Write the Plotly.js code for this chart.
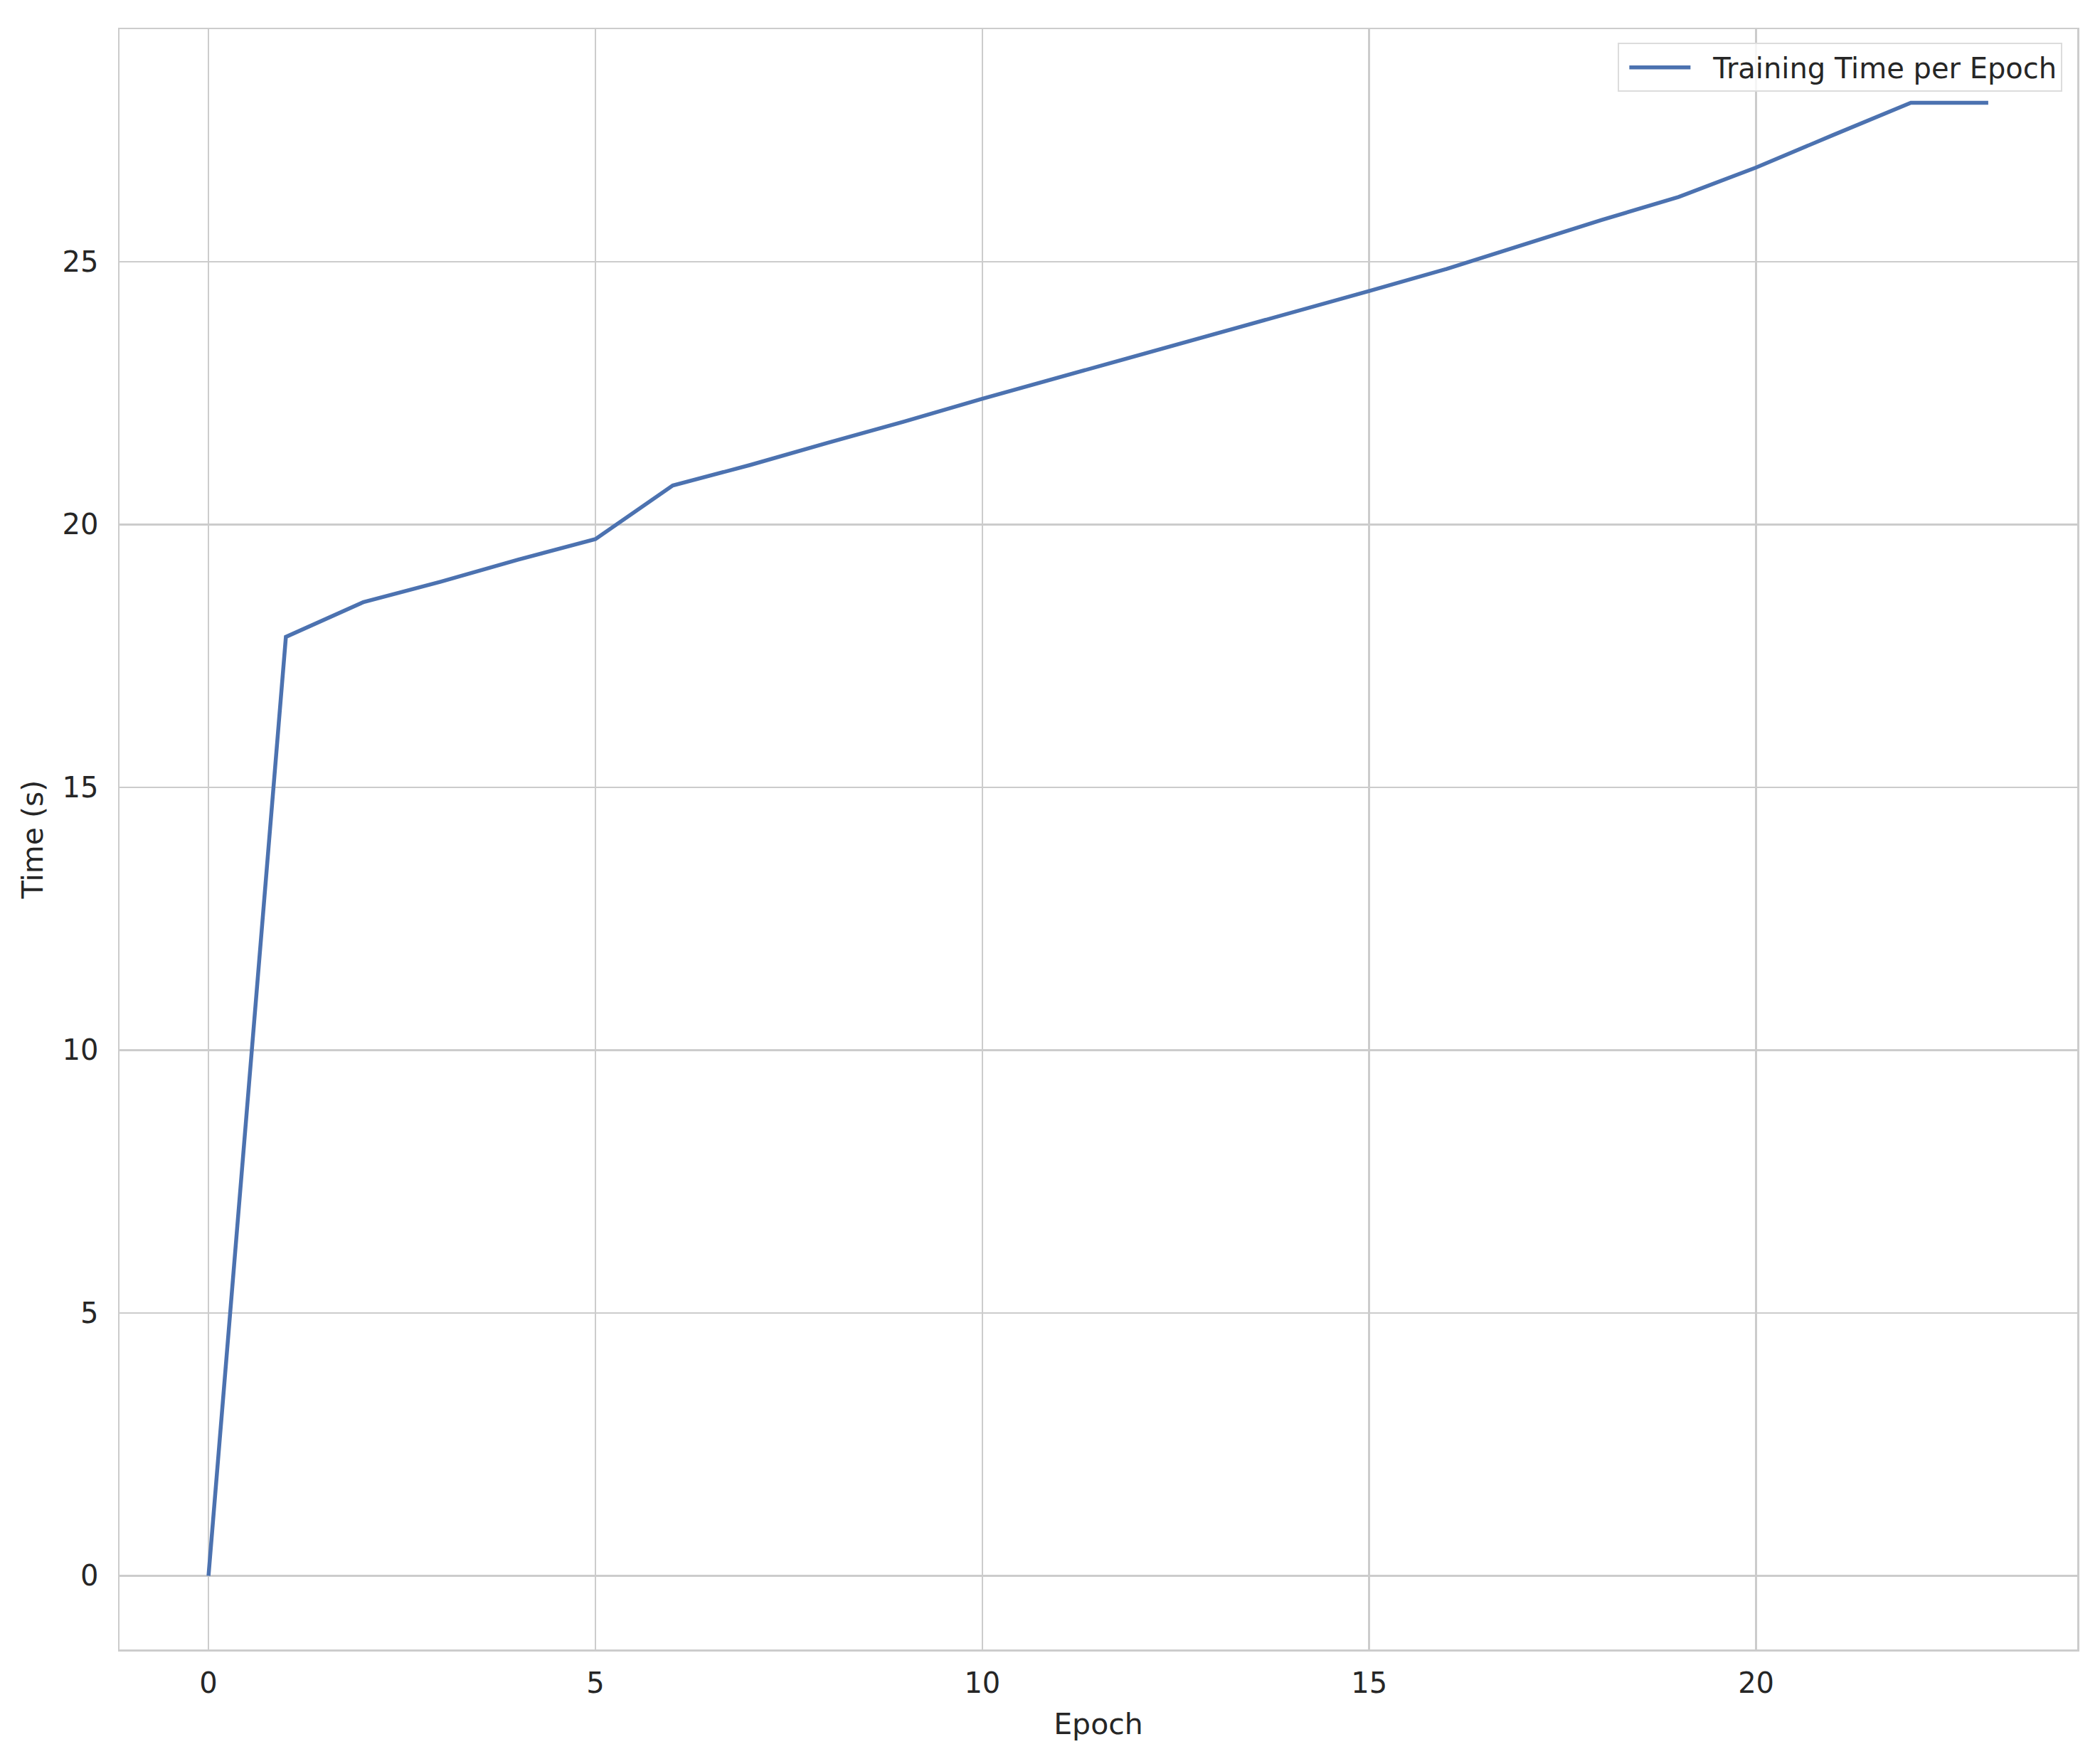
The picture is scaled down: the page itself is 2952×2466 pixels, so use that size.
<!DOCTYPE html>
<html>
<head>
<meta charset="utf-8">
<script src="https://cdn.plot.ly/plotly-3.0.1.min.js"></script>
<style>
  html, body { margin: 0; padding: 0; background: #fff; }
  #plot_div { width: 2952px; height: 2466px; }
</style>
</head>
<body>
<div id="plot_div"></div>
<script>
// epoch index and measured time per epoch (s)
const epochs = [...Array(24).keys()];
const epoch_time = [0, 17.86, 18.52, 18.91, 19.33, 19.72, 20.74, 21.13, 21.55, 21.96,
                    22.39, 22.80, 23.21, 23.62, 24.02, 24.44, 24.86, 25.32, 25.79, 26.23,
                    26.79, 27.41, 28.02, 28.02];
const series_name = 'Training Time per Epoch';
const x_ticks = [0, 5, 10, 15, 20];
const y_ticks = [0, 5, 10, 15, 20, 25];

// matplotlib style 5% padding around the data
const pad = (arr) => {
    const lo = Math.min(...arr), hi = Math.max(...arr);
    const m = (hi - lo) * 0.05;
    return [lo - m, hi + m];
};

const font = {family: 'DejaVu Sans, Liberation Sans, sans-serif', size: 40, color: '#262626'};
const grid = '#cccccc';

const axis_base = {
    showgrid: true,
    gridcolor: grid,
    gridwidth: 2.5,
    zeroline: false,
    showline: true,
    mirror: true,
    linecolor: grid,
    linewidth: 2.5,
    ticks: '',
    tickfont: font,
};

const trace = {
    x: epochs,
    y: epoch_time,
    type: 'scatter',
    mode: 'lines',
    name: series_name,
    line: {color: '#4c72b0', width: 5.5},
};

const layout = {
    width: 2952,
    height: 2466,
    margin: {l: 168, r: 32, t: 41, b: 147},
    paper_bgcolor: '#ffffff',
    plot_bgcolor: '#ffffff',
    font,
    showlegend: true,
    legend: {
        x: 0.9925, xanchor: 'right',
        y: 0.9915, yanchor: 'top',
        bgcolor: 'rgba(255,255,255,0.8)',
        bordercolor: '#dcdcdc',
        borderwidth: 2,
        itemwidth: 122,
        font: {...font, size: 40},
    },
    xaxis: {
        ...axis_base,
        range: pad(epochs),
        tickvals: x_ticks,
        ticklabelstandoff: 10,
        title: {text: 'Epoch', font: {...font, size: 41}, standoff: 22},
    },
    yaxis: {
        ...axis_base,
        range: pad(epoch_time),
        tickvals: y_ticks,
        ticklabelstandoff: 19,
        title: {text: 'Time (s)', font: {...font, size: 41}, standoff: 14},
    },
};

Plotly.newPlot('plot_div', [trace], layout, {displayModeBar: false, staticPlot: true})
    .then(gd => {
        // shorter legend handle with a gap before the label, like matplotlib
        gd.querySelectorAll('.legendlines path').forEach(p => p.setAttribute('d', 'M14,0h86'));
    });
</script>
</body>
</html>
